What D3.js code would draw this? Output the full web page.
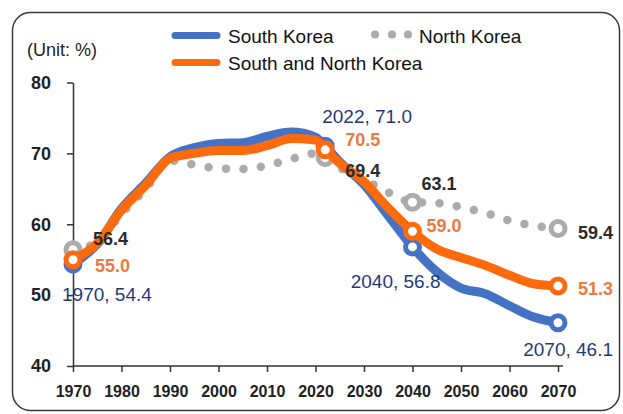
<!DOCTYPE html>
<html>
<head>
<meta charset="utf-8">
<script src="https://cdn.jsdelivr.net/npm/d3@7"></script>
<style>
  body { margin: 0; background: #fff; }
  svg { display: block; font-family: "Liberation Sans", Arial, sans-serif; }
</style>
</head>
<body>
<script>
// working-age population share (%)
var years = [1970, 1975, 1980, 1985, 1990, 1995, 2000, 2005, 2010, 2015, 2020, 2022,
             2025, 2030, 2035, 2040, 2045, 2050, 2055, 2060, 2065, 2070];
var southKorea = [54.4, 57.2, 62.2, 65.8, 69.5, 70.8, 71.4, 71.5, 72.4, 73.0, 72.3, 71.0,
                  68.8, 65.6, 61.2, 56.8, 53.3, 51.0, 50.2, 48.5, 46.9, 46.1];
var northKorea = [56.4, 57.5, 61.5, 65.0, 69.0, 68.4, 67.9, 67.8, 68.3, 69.2, 70.0, 69.4,
                  68.0, 66.3, 64.5, 63.1, 63.0, 62.4, 61.6, 60.5, 59.8, 59.4];
var southNorth = [55.0, 57.3, 62.0, 65.5, 69.3, 70.0, 70.4, 70.4, 71.1, 72.1, 71.9, 70.5,
                  68.6, 66.0, 62.3, 59.0, 56.5, 55.3, 54.2, 52.8, 51.6, 51.3];

var xTicks = [1970, 1980, 1990, 2000, 2010, 2020, 2030, 2040, 2050, 2060, 2070];
var yTicks = [40, 50, 60, 70, 80];
var markerYears = [1970, 2022, 2040, 2070];

var seriesNames = ["North Korea", "South Korea", "South and North Korea"];

// annotations: series, year, text
var labelSeries = ["South Korea", "South and North Korea", "North Korea",
                   "South Korea", "South and North Korea", "North Korea",
                   "North Korea", "South and North Korea", "South Korea",
                   "North Korea", "South and North Korea", "South Korea"];
var labelYears = [1970, 1970, 1970, 2022, 2022, 2022, 2040, 2040, 2040, 2070, 2070, 2070];
var labelTexts = ["1970, 54.4", "55.0", "56.4", "2022, 71.0", "70.5", "69.4",
                  "63.1", "59.0", "2040, 56.8", "59.4", "51.3", "2070, 46.1"];

window.onload = function () {
	var W = 623, H = 414;
	var svg = d3.select("body").append("svg")
		.attr("width", W)
		.attr("height", H);

	// frame
	svg.append("rect")
		.attr("x", 12.5).attr("y", 12.5)
		.attr("width", 607).attr("height", 398)
		.attr("rx", 18)
		.attr("fill", "#fff")
		.attr("stroke", "#3a3a3a")
		.attr("stroke-width", 1.5);

	var colors = {
		"South Korea": "#4472C4",
		"North Korea": "#ABABAB",
		"South and North Korea": "#FF6A0D"
	};
	var labelColors = {
		"South Korea": "#1F3A7A",
		"North Korea": "#2b2b2b",
		"South and North Korea": "#E97B40"
	};
	var values = {
		"South Korea": southKorea,
		"North Korea": northKorea,
		"South and North Korea": southNorth
	};

	var xscale = d3.scaleLinear().domain([1970, 2070]).range([73, 558]);
	var yscale = d3.scaleLinear().domain([40, 80]).range([366, 82.5]);

	// y axis
	var yaxis = d3.axisLeft(yscale)
		.tickValues(yTicks)
		.tickSize(6)
		.tickSizeOuter(0)
		.tickPadding(16);
	var gy = svg.append("g")
		.attr("transform", "translate(73,0)")
		.call(yaxis);

	// x axis
	var xaxis = d3.axisBottom(xscale)
		.tickValues(xTicks)
		.tickFormat(d3.format("d"))
		.tickSize(6)
		.tickSizeOuter(0)
		.tickPadding(14);
	var gx = svg.append("g")
		.attr("transform", "translate(0,366)")
		.call(xaxis);

	[gx, gy].forEach(function (g) {
		g.selectAll("path, line").attr("stroke", "#333").attr("stroke-width", 1.5);
		g.selectAll("text")
			.attr("fill", "#222")
			.style("font-weight", "bold");
	});
	gy.selectAll("text").style("font-size", "18px");
	gx.selectAll("text").style("font-size", "16px");
	// axis line runs a bit past the last tick
	gx.select(".domain").attr("d", "M73,0H563");

	// unit text
	svg.append("text")
		.attr("x", 27).attr("y", 56)
		.attr("fill", "#222")
		.style("font-size", "18px")
		.text("(Unit: %)");

	var line = d3.line()
		.x(function (d) { return xscale(d.year); })
		.y(function (d) { return yscale(d.value); })
		.curve(d3.curveMonotoneX);

	seriesNames.forEach(function (name) {
		var pts = years.map(function (y, i) { return {year: y, value: values[name][i]}; });
		var path = svg.append("path")
			.datum(pts)
			.attr("d", line)
			.attr("fill", "none")
			.attr("stroke", colors[name])
			.attr("stroke-linecap", "round")
			.attr("stroke-linejoin", "round");
		if (name === "North Korea") {
			path.attr("stroke-width", 8.5).attr("stroke-dasharray", "0,17.5");
		} else {
			path.attr("stroke-width", 9);
		}

		svg.selectAll(null)
			.data(pts.filter(function (d) { return markerYears.indexOf(d.year) >= 0; }))
			.enter()
			.append("circle")
			.attr("cx", function (d) { return xscale(d.year); })
			.attr("cy", function (d) { return yscale(d.value); })
			.attr("r", 7)
			.attr("fill", "#fff")
			.attr("stroke", colors[name])
			.attr("stroke-width", 5);
	});

	// label placement relative to its point
	var offsets = {
		"1970, 54.4": [-11, 37, "start"],
		"55.0": [22, 12, "start"],
		"56.4": [20, -5, "start"],
		"2022, 71.0": [-3, -23, "start"],
		"70.5": [20, -4, "start"],
		"69.4": [20, 19, "start"],
		"63.1": [9, -12, "start"],
		"59.0": [14, 1, "start"],
		"2040, 56.8": [28, 41, "end"],
		"59.4": [20, 10, "start"],
		"51.3": [20, 9, "start"],
		"2070, 46.1": [55, 33, "end"]
	};

	labelTexts.forEach(function (t, i) {
		var s = labelSeries[i];
		var v = values[s][years.indexOf(labelYears[i])];
		var o = offsets[t];
		var plain = t.indexOf(",") >= 0;
		svg.append("text")
			.attr("x", xscale(labelYears[i]) + o[0])
			.attr("y", yscale(v) + o[1])
			.attr("text-anchor", o[2])
			.attr("fill", labelColors[s])
			.style("font-size", plain ? "19px" : "18px")
			.style("font-weight", plain ? "normal" : "bold")
			.text(t);
	});

	// legend
	var legend = svg.append("g");
	legend.append("line")
		.attr("x1", 175).attr("x2", 217).attr("y1", 35.5).attr("y2", 35.5)
		.attr("stroke", colors["South Korea"]).attr("stroke-width", 7)
		.attr("stroke-linecap", "round");
	legend.append("text")
		.attr("x", 228).attr("y", 43)
		.attr("fill", "#111").style("font-size", "19px")
		.text("South Korea");
	legend.selectAll(null)
		.data([375, 392, 408])
		.enter().append("circle")
		.attr("cx", function (d) { return d; }).attr("cy", 34.5).attr("r", 4)
		.attr("fill", colors["North Korea"]);
	legend.append("text")
		.attr("x", 419).attr("y", 43)
		.attr("fill", "#111").style("font-size", "19px")
		.text("North Korea");
	legend.append("line")
		.attr("x1", 175).attr("x2", 217).attr("y1", 62.5).attr("y2", 62.5)
		.attr("stroke", colors["South and North Korea"]).attr("stroke-width", 7)
		.attr("stroke-linecap", "round");
	legend.append("text")
		.attr("x", 228).attr("y", 70)
		.attr("fill", "#111").style("font-size", "19px")
		.text("South and North Korea");
};
</script>
</body>
</html>
